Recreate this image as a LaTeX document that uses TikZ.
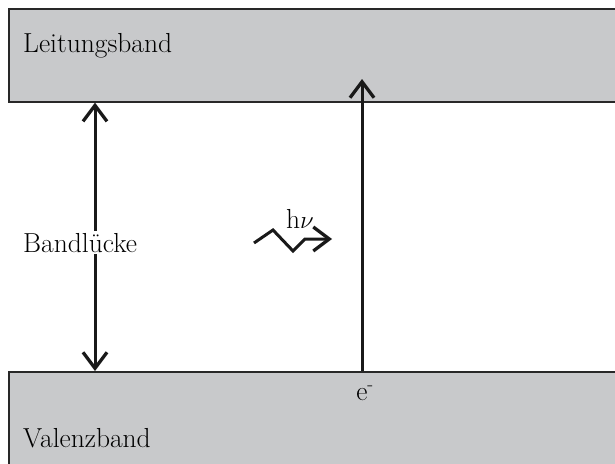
\documentclass[tikz,border=0pt]{standalone}
\usepackage{fontspec}
\usetikzlibrary{arrows.meta}
\definecolor{bandgray}{RGB}{200,201,203}
\definecolor{edge}{RGB}{40,40,40}
\tikzset{
  band/.style={draw=edge, line width=1.6pt, fill=bandgray, rectangle, anchor=north west, inner sep=0pt},
  lbl/.style={font=\fontsize{27.5}{32}\selectfont, inner sep=0pt},
  tipb/.tip={Straight Barb[length=16pt,width=24pt,line width=3.3pt]},
  arr/.style={line width=3pt, color=black!90, -tipb},
  darr/.style={line width=3pt, color=black!90, tipb-tipb},
}
\begin{document}
\begin{tikzpicture}[x=1pt,y=-1pt]
\useasboundingbox (0,0) rectangle (615,463);
\begin{scope}
\clip (0,0) rectangle (615,463);
\node[band, minimum width=630pt, minimum height=93pt] (cb) at (8,8) {};
\node[band, minimum width=630pt, minimum height=110pt] (vb) at (8,371) {};
\end{scope}
\node[lbl, anchor=base west] (lt) at (23,52) {Leitungsband};
\node[lbl, anchor=base west] (vt) at (23,447) {Valenzband};
\coordinate (xl) at (95,0);
\coordinate (xr) at (362,0);
\coordinate (tip) at (362,79);
\draw[darr] (cb.south -| xl) -- (vb.north -| xl);
\node[lbl, anchor=base west, fill=white, inner xsep=0pt, inner ysep=2pt] (gt) at (23,252) {Bandlücke};
\draw[arr] (vb.north -| xr) -- (tip);
\node[lbl, anchor=base] (el) at (365,400) {e\textsuperscript{-}};
\node[lbl, anchor=base] (hv) at (300,228) {h$\nu$};
\coordinate (z0) at (254,243);
\coordinate (z1) at (273,230);
\coordinate (z2) at (293,251);
\coordinate (z3) at (305,239);
\coordinate (z4) at (332,239);
\draw[arr, line join=miter] (z0) -- (z1) -- (z2) -- (z3) -- (z4);
\end{tikzpicture}
\end{document}
